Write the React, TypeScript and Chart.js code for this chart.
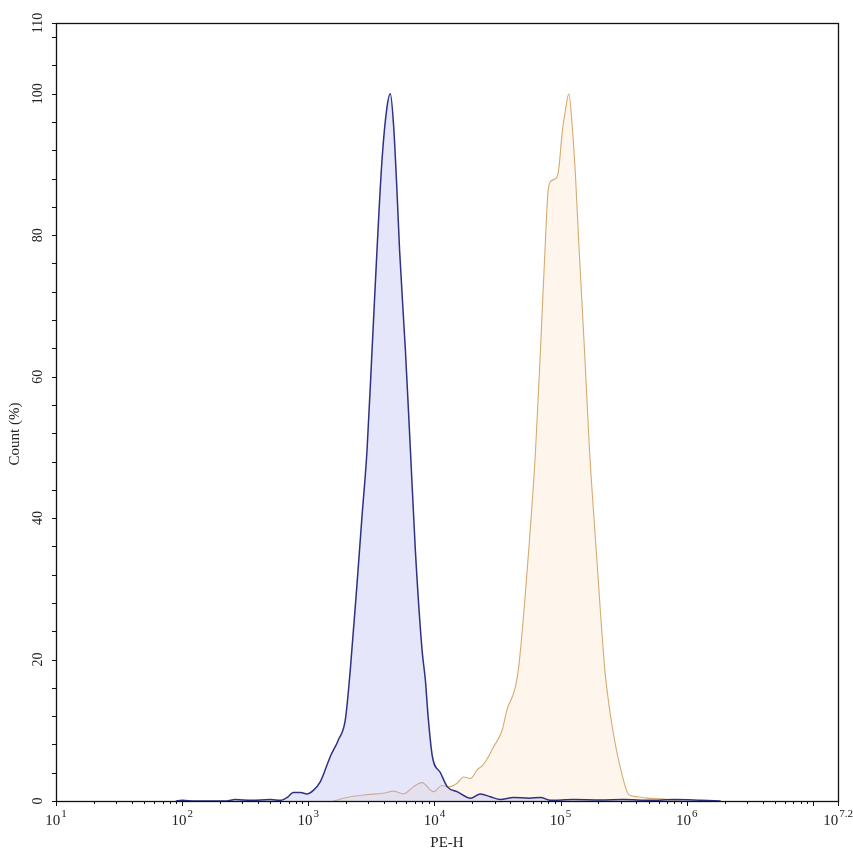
import React, { useEffect, useRef } from 'react';
import { Chart, registerables } from 'chart.js';

Chart.register(...registerables);

// PE-H positions given as log10 exponents, counts in %
const blueExponent = [1.95, 2.0, 2.1, 2.35, 2.42, 2.55, 2.7, 2.78, 2.84, 2.88, 2.94, 2.99, 3.04, 3.095, 3.175, 3.238, 3.294, 3.333, 3.387, 3.426, 3.466, 3.506, 3.545, 3.585, 3.625, 3.651, 3.677, 3.704, 3.724, 3.77, 3.81, 3.849, 3.902, 3.929, 3.95, 3.984, 4.048, 4.103, 4.183, 4.286, 4.365, 4.444, 4.524, 4.627, 4.75, 4.841, 4.921, 5.1, 5.317, 5.5, 5.714, 5.9, 6.111, 6.27];
const blueCount = [0, 0.1, 0, 0, 0.2, 0.1, 0.2, 0.1, 0.6, 1.2, 1.2, 1.0, 1.5, 2.7, 6.3, 8.6, 11.5, 18.5, 30.8, 40.2, 49.6, 63.8, 77.9, 90.7, 98.2, 100, 95.4, 86, 77.9, 63.8, 49.6, 35.5, 21.4, 17.0, 12.0, 6.3, 4.0, 2.0, 1.3, 0.4, 1.0, 0.6, 0.2, 0.5, 0.4, 0.5, 0.1, 0.2, 0.15, 0.2, 0.1, 0.2, 0.1, 0];

const orangeExponent = [3.2, 3.333, 3.466, 3.595, 3.675, 3.754, 3.833, 3.902, 3.992, 4.061, 4.111, 4.18, 4.23, 4.286, 4.339, 4.391, 4.471, 4.537, 4.577, 4.617, 4.643, 4.669, 4.748, 4.802, 4.841, 4.881, 4.9, 4.921, 4.968, 4.987, 5.013, 5.04, 5.066, 5.093, 5.119, 5.146, 5.19, 5.23, 5.283, 5.349, 5.37, 5.41, 5.476, 5.542, 5.609, 5.688, 5.794, 5.897, 5.952];
const orangeCount = [0, 0.6, 0.9, 1.1, 1.4, 1.0, 2.0, 2.6, 1.3, 2.2, 2.0, 2.5, 3.4, 3.2, 4.4, 5.2, 7.7, 10.0, 13.0, 14.7, 16.2, 19.0, 35.5, 49.6, 63.8, 79.5, 86.0, 87.6, 88.1, 89.5, 94.5, 97.8, 100, 95.4, 88.3, 78.5, 63.8, 49.6, 35.5, 19.0, 15.5, 10.5, 4.6, 0.9, 0.6, 0.4, 0.3, 0.1, 0];

const xDecadeExponents = [1, 2, 3, 4, 5, 6];
const xMaxExponent = 7.2;
const xMaxLabel = '7.2';
const yMax = 110;
const yLabelTicks = [0, 20, 40, 60, 80, 100, 110];
const yMinorStep = 4;
const xTitle = 'PE-H';
const yTitle = 'Count (%)';

const SERIF = '"Liberation Serif", "Times New Roman", serif';

const axesPlugin = {
  id: 'flowAxes',
  afterDraw(chart: any) {
    const { ctx, chartArea } = chart;
    const xs = chart.scales.x;
    const ys = chart.scales.y;
    const { left, right, top, bottom } = chartArea;
    ctx.save();
    ctx.strokeStyle = '#111';
    ctx.lineWidth = 1.3;
    ctx.strokeRect(Math.round(left) + 0.5, Math.round(top) + 0.5, Math.round(right - left), Math.round(bottom - top));

    // y ticks
    ctx.lineWidth = 1;
    const yTickVals: number[] = [];
    for (let v = 0; v < yMax; v += yMinorStep) yTickVals.push(v);
    yTickVals.push(yMax);
    ctx.beginPath();
    for (const v of yTickVals) {
      const y = Math.round(ys.getPixelForValue(v)) + 0.5;
      ctx.moveTo(left - 4, y);
      ctx.lineTo(left, y);
    }
    // x ticks
    const maxVal = Math.pow(10, xMaxExponent);
    for (let d = xDecadeExponents[0]; d <= Math.ceil(xMaxExponent); d++) {
      for (let m = 1; m <= 9; m++) {
        const val = m * Math.pow(10, d);
        if (val > maxVal * 1.0001) continue;
        const x = Math.round(xs.getPixelForValue(val)) + 0.5;
        ctx.moveTo(x, bottom);
        ctx.lineTo(x, bottom + (m === 1 ? 5 : 3));
      }
    }
    const xm = Math.round(xs.getPixelForValue(maxVal)) + 0.5;
    ctx.moveTo(xm, bottom);
    ctx.lineTo(xm, bottom + 5);
    ctx.stroke();

    // y labels (rotated)
    ctx.fillStyle = '#222';
    ctx.font = `14px ${SERIF}`;
    ctx.textAlign = 'center';
    ctx.textBaseline = 'middle';
    for (const v of yLabelTicks) {
      const y = ys.getPixelForValue(v);
      ctx.save();
      ctx.translate(38, y);
      ctx.rotate(-Math.PI / 2);
      ctx.fillText(String(v), 0, 0);
      ctx.restore();
    }

    // x labels 10^n
    const drawPow = (x: number, exp: string) => {
      ctx.font = `15px ${SERIF}`;
      const w1 = ctx.measureText('10').width;
      ctx.font = `11px ${SERIF}`;
      const w2 = ctx.measureText(exp).width;
      const start = x - (w1 + w2 + 1) / 2;
      ctx.textAlign = 'left';
      ctx.textBaseline = 'alphabetic';
      ctx.font = `15px ${SERIF}`;
      ctx.fillText('10', start, bottom + 24);
      ctx.font = `11px ${SERIF}`;
      ctx.fillText(exp, start + w1 + 1, bottom + 16);
    };
    for (const d of xDecadeExponents) drawPow(xs.getPixelForValue(Math.pow(10, d)), String(d));
    drawPow(xs.getPixelForValue(maxVal), xMaxLabel);

    // titles
    ctx.font = `15px ${SERIF}`;
    ctx.textAlign = 'center';
    ctx.textBaseline = 'middle';
    ctx.fillText(xTitle, (left + right) / 2, bottom + 42);
    ctx.save();
    ctx.translate(15, (top + bottom) / 2 + 22);
    ctx.rotate(-Math.PI / 2);
    ctx.fillText(yTitle, 0, 0);
    ctx.restore();
    ctx.restore();
  },
};

export default function App() {
  const ref = useRef<HTMLCanvasElement>(null);
  useEffect(() => {
    const canvas = ref.current;
    if (!canvas) return;
    const blueData = blueExponent.map((e, i) => ({ x: Math.pow(10, e), y: blueCount[i] }));
    const orangeData = orangeExponent.map((e, i) => ({ x: Math.pow(10, e), y: orangeCount[i] }));
    const chart = new Chart(canvas, {
      type: 'line',
      data: {
        datasets: [
          {
            label: 'Control',
            data: blueData,
            borderColor: '#2E3282',
            borderWidth: 1.5,
            backgroundColor: 'rgba(175,178,240,0.33)',
            fill: 'origin',
            pointRadius: 0,
            cubicInterpolationMode: 'monotone',
          },
          {
            label: 'Sample',
            data: orangeData,
            borderColor: '#D6AB72',
            borderWidth: 1.1,
            backgroundColor: 'rgba(248,200,150,0.18)',
            fill: 'origin',
            pointRadius: 0,
            cubicInterpolationMode: 'monotone',
          },
        ],
      },
      options: {
        responsive: false,
        animation: false,
        layout: { padding: { left: 56, top: 23, right: 15, bottom: 55 } },
        plugins: { legend: { display: false }, tooltip: { enabled: false } },
        scales: {
          x: { type: 'logarithmic', min: 10, max: Math.pow(10, xMaxExponent), display: false },
          y: { type: 'linear', min: 0, max: yMax, display: false },
        },
      },
      plugins: [axesPlugin],
    });
    return () => chart.destroy();
  }, []);
  return (
    <div style={{ position: 'absolute', left: 0, top: 0, width: 853, height: 856, background: '#fff' }}>
      <canvas ref={ref} width={853} height={856} style={{ display: 'block' }} />
    </div>
  );
}
